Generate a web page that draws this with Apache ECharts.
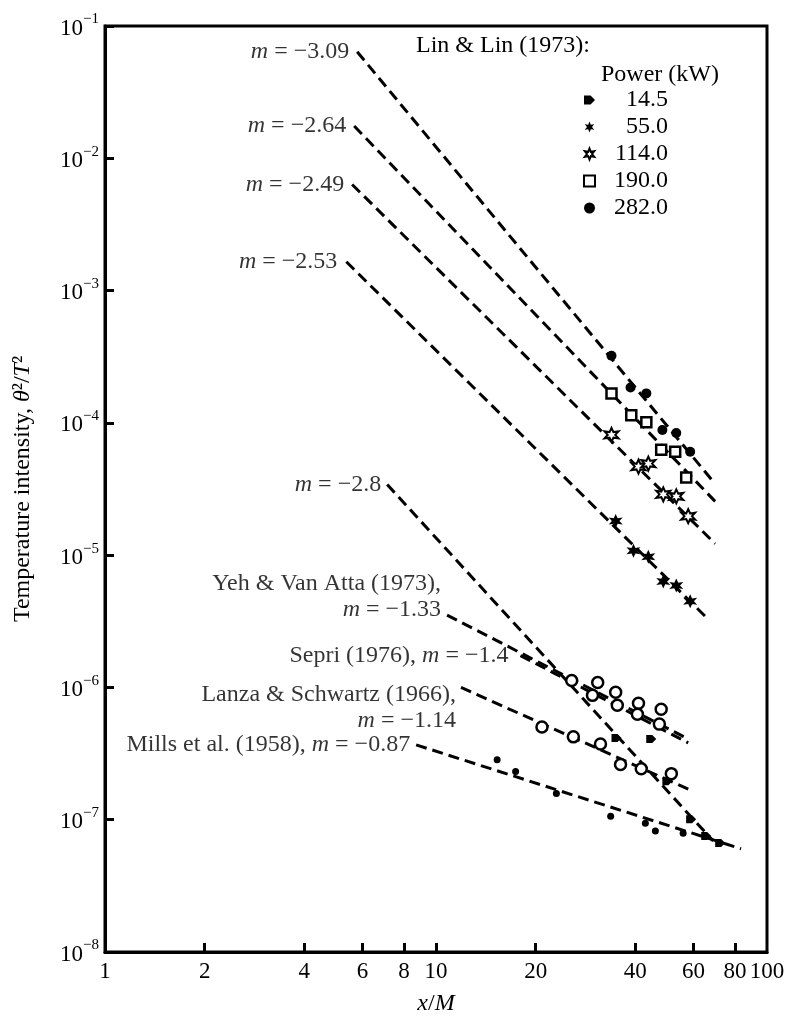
<!DOCTYPE html>
<html>
<head>
<meta charset="utf-8">
<script src="https://cdn.jsdelivr.net/npm/echarts@6/dist/echarts.min.js"></script>
<style>html,body{margin:0;padding:0;background:#fff;}#c{width:798px;height:1021px;}</style>
</head>
<body>
<div id="c"></div>
<script>
// ---- axis ticks ----
const xTickValues = [1, 2, 4, 6, 8, 10, 20, 40, 60, 80, 100];
const xInnerTicks = [2, 4, 6, 8, 10, 20, 40, 60, 80];

// ---- fitted power-law lines (start / end points) ----
const fitNames = ['m = −3.09', 'm = −2.64', 'm = −2.49', 'm = −2.53', 'm = −2.8',
  'Yeh & Van Atta (1973)', 'Sepri (1976)', 'Lanza & Schwartz (1966)', 'Mills et al. (1958)'];
const fitText = ['{i|m} = −3.09', '{i|m} = −2.64', '{i|m} = −2.49', '{i|m} = −2.53', '{i|m} = −2.8',
  'Yeh & Van Atta (1973),\n{i|m} = −1.33', 'Sepri (1976), {i|m} = −1.4',
  'Lanza & Schwartz (1966),\n{i|m} = −1.14', 'Mills et al. (1958), {i|m} = −0.87'];
const fitX0 = [5.78, 5.66, 5.58, 5.36, 7.12, 10.8, 18.0, 11.9, 8.71];
const fitY0 = [0.0638, 0.01754, 0.00634, 0.00165, 3.42e-5, 3.52e-6, 1.74e-6, 1.0e-6, 3.68e-7];
const fitX1 = [68.8, 69.7, 69.7, 65.0, 68.8, 57.8, 57.8, 59.8, 83.5];
const fitY1 = [3.6e-5, 2.55e-5, 1.22e-5, 3.46e-6, 6.9e-8, 4.08e-7, 3.81e-7, 1.64e-7, 6.03e-8];

// ---- Lin & Lin (1973) data by power (kW) ----
const powerNames = ['14.5', '55.0', '114.0', '190.0', '282.0'];
const p145X = [35.1, 44.7, 50.0, 59.0, 65.5, 72.2];
const p145Y = [4.15e-7, 4.08e-7, 1.95e-7, 1.01e-7, 7.54e-8, 6.68e-8];
const p55X = [34.9, 39.5, 43.8, 48.6, 53.2, 58.6];
const p55Y = [1.81e-5, 1.08e-5, 9.73e-6, 6.32e-6, 5.90e-6, 4.48e-6];
const p114X = [33.9, 40.9, 43.8, 48.6, 53.2, 57.8];
const p114Y = [8.11e-5, 4.67e-5, 4.92e-5, 2.88e-5, 2.78e-5, 1.97e-5];
const p190X = [33.9, 38.9, 43.2, 47.9, 52.8, 57.0];
const p190Y = [1.67e-4, 1.14e-4, 1.01e-4, 6.25e-5, 6.04e-5, 3.86e-5];
const p282X = [33.9, 38.7, 43.2, 48.3, 53.2, 58.6];
const p282Y = [3.22e-4, 1.85e-4, 1.67e-4, 8.83e-5, 8.39e-5, 6.04e-5];

// ---- other experiments ----
const yehSepriX = [25.7, 30.8, 29.7, 34.9, 35.3, 40.9, 40.6, 47.9, 47.3];
const yehSepriY = [1.13e-6, 1.09e-6, 8.71e-7, 9.18e-7, 7.33e-7, 7.59e-7, 6.28e-7, 6.84e-7, 5.28e-7];
const lanzaX = [20.9, 26.0, 31.4, 36.1, 41.7, 51.4];
const lanzaY = [5.02e-7, 4.23e-7, 3.74e-7, 2.61e-7, 2.43e-7, 2.23e-7];
const millsX = [15.3, 17.4, 23.1, 33.7, 42.9, 46.0, 55.8];
const millsY = [2.84e-7, 2.31e-7, 1.58e-7, 1.06e-7, 9.4e-8, 8.2e-8, 7.9e-8];

// ---- rendering ----
const FONT = '"Liberation Serif", "DejaVu Serif", serif';
const zip = (xs, ys) => xs.map((x, i) => [x, ys[i]]);
const richItalic = { i: { fontFamily: FONT, fontStyle: 'italic', fontSize: 24, color: '#000' } };
const labelOffsets = [[0,0],[0,0],[0,0],[0,0],[0,0],[0,-18],[0,0],[0,20],[0,0]];
const labelDist = [8, 8, 8, 9, 6, 6, 12, 5, 6];

const starPath = 'path://M5,0 L6.2,3 L9.3,2.5 L7.3,5 L9.3,7.5 L6.2,7 L5,10 L3.8,7 L0.7,7.5 L2.7,5 L0.7,2.5 L3.8,3 Z';
const arrowPath = 'path://M0,0 L6,0 L10,4 L6,8 L0,8 Z';

const series = [];
fitNames.forEach((n, k) => {
  series.push({
    name: n, type: 'line', silent: true, symbol: 'none',
    data: [[fitX0[k], fitY0[k]], [fitX1[k], fitY1[k]]],
    lineStyle: { color: '#000', width: 3, type: [11, 6] },
    label: { show: false },
    z: 2
  });
  // label anchored at the first point of the line
  series.push({
    name: n + ' label', type: 'scatter', silent: true, symbolSize: 0,
    data: [[fitX0[k], fitY0[k]]],
    label: {
      show: true, position: 'left', distance: labelDist[k], offset: labelOffsets[k],
      formatter: () => fitText[k], align: 'right',
      fontFamily: FONT, fontSize: 24, color: '#000', lineHeight: 26,
      rich: richItalic
    },
    z: 3
  });
});

const markerStyles = {
  '14.5': { symbol: arrowPath, symbolSize: [10, 8], itemStyle: { color: '#000', opacity: 1 } },
  '55.0': { symbol: starPath, symbolSize: 14, itemStyle: { color: '#000', opacity: 1 } },
  '114.0': { symbol: starPath, symbolSize: 14, itemStyle: { color: '#fff', borderColor: '#000', borderWidth: 2, opacity: 1 } },
  '190.0': { symbol: 'rect', symbolSize: 10, itemStyle: { color: '#fff', borderColor: '#000', borderWidth: 2.5, opacity: 1 } },
  '282.0': { symbol: 'circle', symbolSize: 10, itemStyle: { color: '#000', opacity: 1 } }
};
const powerData = { '14.5': zip(p145X, p145Y), '55.0': zip(p55X, p55Y), '114.0': zip(p114X, p114Y),
  '190.0': zip(p190X, p190Y), '282.0': zip(p282X, p282Y) };
powerNames.forEach(n => {
  series.push(Object.assign({ name: n, type: 'scatter', data: powerData[n], z: 5 }, markerStyles[n]));
});
series.push({ name: 'Yeh/Sepri data', type: 'scatter', data: zip(yehSepriX, yehSepriY), symbol: 'circle', symbolSize: 11,
  itemStyle: { color: '#fff', borderColor: '#000', borderWidth: 2.5, opacity: 1 }, z: 5 });
series.push({ name: 'Lanza data', type: 'scatter', data: zip(lanzaX, lanzaY), symbol: 'circle', symbolSize: 11,
  itemStyle: { color: '#fff', borderColor: '#000', borderWidth: 2.5, opacity: 1 }, z: 5 });
series.push({ name: 'Mills data', type: 'scatter', data: zip(millsX, millsY), symbol: 'circle', symbolSize: 7,
  itemStyle: { color: '#000', opacity: 1 }, z: 5 });

const chart = echarts.init(document.getElementById('c'), null, { renderer: 'canvas' });
chart.setOption({
  animation: false,
  backgroundColor: '#fff',
  grid: { left: 105, right: 31, top: 26, bottom: 60, show: true, borderColor: '#000', borderWidth: 3, backgroundColor: 'transparent' },
  title: [
    { text: 'Lin & Lin (1973):', left: 411, top: 29, textStyle: { fontFamily: FONT, fontSize: 24, fontWeight: 'normal', color: '#000' } },
    { text: 'Power (kW)', left: 596, top: 58, textStyle: { fontFamily: FONT, fontSize: 24, fontWeight: 'normal', color: '#000' } }
  ],
  legend: {
    data: powerNames, orient: 'vertical', left: 578, top: 83, itemGap: 3,
    itemWidth: 11, itemHeight: 11, selectedMode: false,
    formatter: n => '{a|' + n + '}',
    textStyle: { fontFamily: FONT, fontSize: 24, color: '#000',
      rich: { a: { width: 68, align: 'right', fontFamily: FONT, fontSize: 24, color: '#000' } } }
  },
  xAxis: {
    type: 'log', logBase: 10, min: 1, max: 100,
    name: '{i|x}/{i|M}', nameLocation: 'middle', nameGap: 40,
    nameTextStyle: { fontFamily: FONT, fontSize: 24, color: '#000', rich: richItalic },
    axisLine: { show: true, lineStyle: { color: '#000', width: 3 } },
    axisTick: { show: true, inside: true, length: 9, lineStyle: { color: '#000', width: 3 }, customValues: xInnerTicks },
    axisLabel: { show: true, customValues: xTickValues, margin: 8, fontFamily: FONT, fontSize: 23, color: '#000',
      formatter: v => String(Math.round(v)) },
    splitLine: { show: false }, minorTick: { show: false }
  },
  yAxis: {
    type: 'log', logBase: 10, min: 1e-8, max: 1e-1, splitNumber: 7,
    name: 'Temperature intensity, {i|θ}²/{i|T}²', nameLocation: 'middle', nameGap: 70, nameRotate: 90,
    nameTextStyle: { fontFamily: FONT, fontSize: 24, color: '#000', rich: richItalic },
    axisLine: { show: true, lineStyle: { color: '#000', width: 3 } },
    axisTick: { show: true, inside: true, length: 9, lineStyle: { color: '#000', width: 3 } },
    axisLabel: { show: true, margin: 6, fontFamily: FONT, color: '#000',
      formatter: v => '{b|10}{s|−' + Math.round(-Math.log10(v)) + '}',
      rich: { b: { fontFamily: FONT, fontSize: 23, color: '#000', lineHeight: 28, verticalAlign: 'bottom' },
              s: { fontFamily: FONT, fontSize: 15, color: '#000', lineHeight: 28, verticalAlign: 'top' } } },
    splitLine: { show: false }, minorTick: { show: false }
  },
  series: series
});
</script>
</body>
</html>
